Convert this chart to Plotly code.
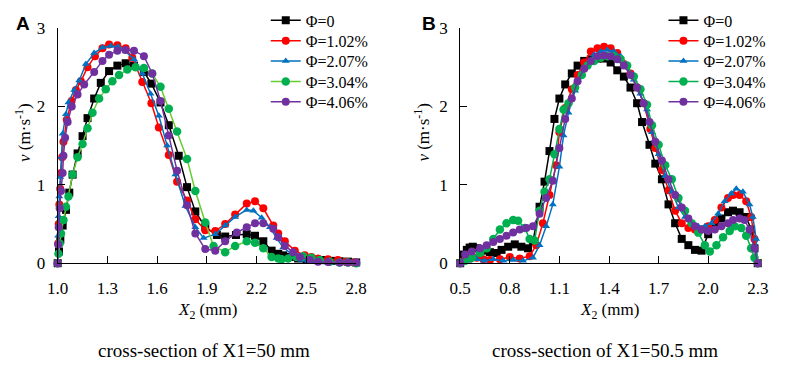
import plotly.graph_objects as go

W, H = 796, 369

LABELS = ["Φ=0", "Φ=1.02%", "Φ=2.07%", "Φ=3.04%", "Φ=4.06%"]

# ---- panel A : cross-section of X1=50 mm ----
A_X0 = [1.0, 1.008, 1.016, 1.03, 1.05, 1.07, 1.09, 1.12, 1.15, 1.18, 1.22, 1.26, 1.31, 1.36, 1.41, 1.46,
        1.52, 1.565, 1.62, 1.67, 1.73, 1.78, 1.83, 1.89, 1.96, 2.01, 2.075, 2.14, 2.19, 2.24, 2.29, 2.33,
        2.36, 2.4, 2.45, 2.5, 2.55, 2.6, 2.65, 2.7, 2.75, 2.8]
A_Y0 = [0, 0.15, 0.3, 0.48, 0.68, 0.9, 1.13, 1.4, 1.62, 1.85, 2.1, 2.3, 2.45, 2.52, 2.55, 2.52,
        2.44, 2.29, 2.05, 1.76, 1.37, 0.97, 0.66, 0.46, 0.36, 0.34, 0.36, 0.37, 0.35, 0.28, 0.16, 0.12,
        0.1, 0.08, 0.06, 0.05, 0.045, 0.04, 0.03, 0.025, 0.02, 0.01]

A_X1 = [1.0, 1.003, 1.006, 1.01, 1.015, 1.02, 1.027, 1.035, 1.055, 1.084, 1.11, 1.14, 1.18, 1.225, 1.27,
        1.31, 1.36, 1.41, 1.45, 1.51, 1.565, 1.61, 1.67, 1.72, 1.78, 1.83, 1.89, 1.95, 2.01, 2.07, 2.14,
        2.19, 2.24, 2.3, 2.33, 2.37, 2.43, 2.49, 2.53, 2.57, 2.63, 2.69, 2.74, 2.79]
A_Y1 = [0, 0.25, 0.5, 0.75, 0.95, 1.15, 1.35, 1.55, 1.83, 2.07, 2.21, 2.32, 2.5, 2.64, 2.74,
        2.79, 2.78, 2.74, 2.62, 2.31, 2.04, 1.73, 1.38, 1.04, 0.8, 0.56, 0.42, 0.41, 0.5, 0.62, 0.76,
        0.79, 0.7, 0.48, 0.38, 0.28, 0.16, 0.1, 0.08, 0.06, 0.05, 0.04, 0.02, 0.01]

A_X2 = [1.0, 1.003, 1.006, 1.01, 1.016, 1.022, 1.03, 1.05, 1.065, 1.1, 1.13, 1.17, 1.22, 1.27, 1.32,
        1.365, 1.41, 1.46, 1.51, 1.56, 1.61, 1.66, 1.71, 1.77, 1.83, 1.88, 1.95, 2.01, 2.07, 2.14, 2.18,
        2.23, 2.28, 2.32, 2.36, 2.41, 2.47, 2.51, 2.56, 2.62, 2.68, 2.74, 2.8]
A_Y2 = [0, 0.35, 0.6, 0.85, 1.1, 1.35, 1.65, 1.9, 2.05, 2.21, 2.33, 2.54, 2.68, 2.75, 2.77,
        2.76, 2.7, 2.6, 2.42, 2.16, 1.88, 1.5, 1.13, 0.73, 0.46, 0.32, 0.37, 0.48, 0.59, 0.68, 0.67,
        0.58, 0.46, 0.32, 0.2, 0.12, 0.04, 0.02, 0.015, 0.01, 0.01, 0.01, 0.01]

A_X3 = [1.0, 1.005, 1.012, 1.02, 1.035, 1.05, 1.065, 1.09, 1.12, 1.15, 1.18, 1.21, 1.25, 1.29, 1.33,
        1.37, 1.42, 1.47, 1.52, 1.57, 1.62, 1.67, 1.72, 1.78, 1.83, 1.89, 1.94, 2.01, 2.07, 2.14, 2.19,
        2.24, 2.29, 2.33, 2.35, 2.39, 2.44, 2.48, 2.53, 2.58, 2.64, 2.7, 2.75, 2.8]
A_Y3 = [0, 0.12, 0.25, 0.38, 0.55, 0.72, 0.85, 1.13, 1.35, 1.52, 1.72, 1.92, 2.1, 2.22, 2.32,
        2.4, 2.47, 2.5, 2.49, 2.42, 2.25, 1.97, 1.68, 1.33, 0.92, 0.52, 0.22, 0.14, 0.22, 0.28, 0.26,
        0.19, 0.08, 0.06, 0.05, 0.06, 0.08, 0.09, 0.07, 0.04, 0.02, 0.01, 0.01, 0.0]

A_X4 = [1.0, 1.003, 1.006, 1.012, 1.02, 1.03, 1.035, 1.045, 1.06, 1.085, 1.12, 1.16, 1.22, 1.27, 1.31,
        1.36, 1.41, 1.46, 1.52, 1.57, 1.62, 1.67, 1.72, 1.78, 1.83, 1.89, 1.95, 2.01, 2.08, 2.14, 2.19,
        2.24, 2.3, 2.33, 2.37, 2.42, 2.46, 2.52, 2.57, 2.63, 2.7, 2.75, 2.8]
A_Y4 = [0, 0.24, 0.46, 0.7, 0.92, 1.15, 1.37, 1.6, 1.8, 2.0, 2.15, 2.28, 2.44, 2.58, 2.66,
        2.71, 2.72, 2.71, 2.64, 2.42, 2.07, 1.63, 1.18, 0.74, 0.38, 0.18, 0.16, 0.28, 0.39, 0.46, 0.51,
        0.51, 0.44, 0.33, 0.22, 0.14, 0.08, 0.04, 0.02, 0.015, 0.01, 0.01, 0.01]

# ---- panel B : cross-section of X1=50.5 mm ----
B_X0 = [0.5, 0.52, 0.54, 0.557, 0.576, 0.6, 0.645, 0.68, 0.72, 0.75, 0.79, 0.83, 0.87, 0.91, 0.94, 0.98,
        1.01, 1.04, 1.07, 1.1, 1.135, 1.175, 1.21, 1.25, 1.29, 1.33, 1.37, 1.41, 1.45, 1.49, 1.53, 1.57,
        1.6, 1.645, 1.68, 1.72, 1.76, 1.8, 1.84, 1.88, 1.92, 1.96, 2.0, 2.04, 2.08, 2.12, 2.15, 2.19,
        2.23, 2.26, 2.28, 2.3]
B_Y0 = [0, 0.11, 0.17, 0.2, 0.21, 0.19, 0.16, 0.14, 0.13, 0.17, 0.21, 0.24, 0.21, 0.19, 0.28, 0.72,
        1.04, 1.43, 1.84, 2.1, 2.28, 2.42, 2.52, 2.58, 2.6, 2.61, 2.61, 2.56, 2.46, 2.38, 2.24, 2.04,
        1.8, 1.51, 1.27, 1.07, 0.75, 0.51, 0.31, 0.23, 0.17, 0.16, 0.37, 0.47, 0.57, 0.65, 0.67, 0.65,
        0.59, 0.43, 0.19, 0]

B_X1 = [0.5, 0.53, 0.56, 0.6, 0.64, 0.68, 0.74, 0.8, 0.86, 0.92, 0.96, 1.0, 1.04, 1.08, 1.1, 1.135,
        1.175, 1.21, 1.25, 1.29, 1.33, 1.37, 1.41, 1.45, 1.49, 1.53, 1.57, 1.61, 1.65, 1.68, 1.72, 1.76,
        1.8, 1.84, 1.88, 1.92, 1.96, 2.0, 2.04, 2.08, 2.12, 2.15, 2.19, 2.23, 2.26, 2.28, 2.3]
B_Y1 = [0, 0.05, 0.06, 0.07, 0.05, 0.04, 0.05, 0.08, 0.06, 0.09, 0.23, 0.51, 0.87, 1.25, 1.67, 1.98,
        2.22, 2.4, 2.56, 2.7, 2.74, 2.76, 2.74, 2.68, 2.54, 2.42, 2.24, 2.04, 1.71, 1.47, 1.19, 0.93,
        0.67, 0.51, 0.45, 0.43, 0.43, 0.47, 0.55, 0.71, 0.83, 0.87, 0.87, 0.79, 0.59, 0.31, 0]

B_X2 = [0.5, 0.55, 0.6, 0.645, 0.7, 0.76, 0.82, 0.88, 0.94, 0.98, 1.02, 1.06, 1.1, 1.125, 1.155, 1.195,
        1.235, 1.27, 1.31, 1.35, 1.39, 1.43, 1.47, 1.51, 1.55, 1.59, 1.63, 1.66, 1.7, 1.74, 1.78, 1.82,
        1.86, 1.9, 1.94, 1.98, 2.02, 2.06, 2.1, 2.14, 2.17, 2.21, 2.25, 2.27, 2.29, 2.3]
B_Y2 = [0, 0.03, 0.05, 0.03, 0.05, 0.03, 0.04, 0.03, 0.07, 0.23, 0.47, 0.75, 1.23, 1.63, 1.92, 2.2,
        2.4, 2.54, 2.66, 2.7, 2.72, 2.7, 2.64, 2.52, 2.34, 2.16, 1.96, 1.67, 1.39, 1.11, 0.91, 0.71,
        0.59, 0.51, 0.47, 0.47, 0.51, 0.63, 0.79, 0.89, 0.95, 0.91, 0.75, 0.59, 0.31, 0]

B_X3 = [0.5, 0.53, 0.57, 0.62, 0.66, 0.7, 0.74, 0.78, 0.82, 0.85, 0.89, 0.92, 0.95, 0.98, 1.01, 1.04,
        1.07, 1.1, 1.125, 1.155, 1.195, 1.235, 1.27, 1.31, 1.35, 1.39, 1.43, 1.47, 1.51, 1.55, 1.59, 1.63,
        1.66, 1.7, 1.74, 1.78, 1.82, 1.86, 1.9, 1.94, 1.98, 2.01, 2.05, 2.09, 2.13, 2.16, 2.2, 2.23,
        2.26, 2.28, 2.3]
B_Y3 = [0, 0.03, 0.07, 0.13, 0.19, 0.31, 0.43, 0.51, 0.55, 0.54, 0.45, 0.31, 0.29, 0.67, 0.91, 1.07,
        1.39, 1.71, 1.96, 2.04, 2.24, 2.4, 2.52, 2.58, 2.62, 2.64, 2.64, 2.6, 2.52, 2.38, 2.22, 2.02,
        1.76, 1.51, 1.25, 1.07, 0.83, 0.67, 0.51, 0.39, 0.23, 0.15, 0.23, 0.33, 0.41, 0.47, 0.45, 0.35,
        0.19, 0.07, 0]

B_X4 = [0.5, 0.53, 0.57, 0.62, 0.66, 0.7, 0.74, 0.78, 0.82, 0.86, 0.9, 0.94, 0.98, 1.02, 1.06, 1.1,
        1.135, 1.175, 1.21, 1.25, 1.29, 1.33, 1.37, 1.41, 1.45, 1.49, 1.53, 1.57, 1.61, 1.645, 1.68, 1.72,
        1.76, 1.8, 1.84, 1.88, 1.92, 1.96, 2.0, 2.04, 2.08, 2.12, 2.15, 2.19, 2.22, 2.25, 2.28, 2.3]
B_Y4 = [0, 0.11, 0.15, 0.19, 0.23, 0.27, 0.31, 0.35, 0.39, 0.43, 0.45, 0.47, 0.63, 0.83, 1.05, 1.47,
        1.84, 2.1, 2.32, 2.48, 2.58, 2.64, 2.65, 2.64, 2.6, 2.52, 2.4, 2.24, 2.04, 1.8, 1.55, 1.31,
        1.07, 0.87, 0.71, 0.57, 0.47, 0.43, 0.41, 0.43, 0.47, 0.51, 0.55, 0.57, 0.55, 0.43, 0.19, 0]

A_SERIES = [(A_X0, A_Y0), (A_X1, A_Y1), (A_X2, A_Y2), (A_X3, A_Y3), (A_X4, A_Y4)]
B_SERIES = [(B_X0, B_Y0), (B_X1, B_Y1), (B_X2, B_Y2), (B_X3, B_Y3), (B_X4, B_Y4)]

LINE_COLORS_A = ["#000000", "#ff0000", "#0070c0", "#66cc33", "#7030a0"]
LINE_COLORS_B = ["#000000", "#ff0000", "#0070c0", "#00b050", "#7030a0"]
MARKER_COLORS = ["#000000", "#ff0000", "#0070c0", "#00b050", "#7030a0"]
SYMBOLS = ["square", "circle", "triangle-up", "circle", "circle"]
SIZES = [8, 8, 7, 8.5, 8]

SERIF = "Liberation Serif, Times New Roman, serif"

# legend rows (pixel centres) - one small legend per entry so the row pitch matches
LEGEND_ROWS = [12, 33.5, 55, 76.5, 98]


def px_x(p):
    return p / W


def px_y(p):
    return (H - p) / H


fig = go.Figure()

legend_layout = {}
n = 0
for series, lcolors, xa, ya, leg_x in [
    (A_SERIES, LINE_COLORS_A, "x", "y", 262),
    (B_SERIES, LINE_COLORS_B, "x2", "y2", 671),
]:
    for i, (xs, ys) in enumerate(series):
        n += 1
        leg_name = "legend" if n == 1 else "legend%d" % n
        legend_layout[leg_name] = dict(
            x=px_x(leg_x), y=px_y(LEGEND_ROWS[i]), xanchor="left", yanchor="middle",
            bgcolor="rgba(0,0,0,0)", borderwidth=0,
            font=dict(family=SERIF, size=16, color="black"),
        )
        fig.add_trace(
            go.Scatter(
                x=xs,
                y=ys,
                mode="lines+markers",
                name=LABELS[i],
                xaxis=xa,
                yaxis=ya,
                legend=leg_name,
                cliponaxis=False,
                line=dict(color=lcolors[i], width=1.5),
                marker=dict(color=MARKER_COLORS[i], symbol=SYMBOLS[i], size=SIZES[i]),
            )
        )

tick_font = dict(family=SERIF, size=17, color="black")
axis_common = dict(
    showline=True,
    linecolor="black",
    linewidth=1,
    ticks="inside",
    ticklen=7,
    tickcolor="black",
    showgrid=False,
    zeroline=False,
)

y_dom = [px_y(268), px_y(20)]

fig.update_layout(
    width=W,
    height=H,
    margin=dict(l=0, r=0, t=0, b=0),
    paper_bgcolor="white",
    plot_bgcolor="white",
    font=dict(family=SERIF, size=17, color="black"),
    xaxis=dict(axis_common, domain=[px_x(48), px_x(355)], range=[1.0, 2.8],
               tickvals=[1.0, 1.3, 1.6, 1.9, 2.2, 2.5, 2.8], tickformat=".1f",
               anchor="y", ticklabelstandoff=9, tickfont=tick_font),
    yaxis=dict(axis_common, domain=y_dom, range=[0, 3], tickvals=[0, 1, 2, 3],
               anchor="x", ticklabelstandoff=8, tickfont=tick_font),
    xaxis2=dict(axis_common, domain=[px_x(462), px_x(768)], range=[0.5, 2.3],
                tickvals=[0.5, 0.8, 1.1, 1.4, 1.7, 2.0, 2.3], tickformat=".1f",
                anchor="y2", ticklabelstandoff=9, tickfont=tick_font),
    yaxis2=dict(axis_common, domain=y_dom, range=[0, 3], tickvals=[0, 1, 2, 3],
                anchor="x2", ticklabelstandoff=8, tickfont=tick_font),
    showlegend=True,
    **legend_layout,
)

annotations = []
for letter, lx, ytx, cx, sub in [
    ("A", 3, 13, 202, "cross-section of X1=50 mm"),
    ("B", 421, 423, 615, "cross-section of X1=50.5 mm"),
]:
    annotations.append(dict(text="<b>" + letter + "</b>", x=px_x(lx), y=px_y(15), xref="paper", yref="paper",
                            xanchor="left", yanchor="middle", showarrow=False,
                            font=dict(family="Liberation Sans, Arial, sans-serif", size=19, color="black")))
    annotations.append(dict(text="<i>v</i> (m·s<sup>-1</sup>)", x=px_x(ytx), y=px_y(130), xref="paper",
                            yref="paper", textangle=-90, xanchor="center", yanchor="middle",
                            showarrow=False, font=dict(family=SERIF, size=17, color="black")))
    annotations.append(dict(text="<i>X</i><sub>2</sub> (mm)", x=px_x(cx), y=px_y(318), xref="paper",
                            yref="paper", xanchor="center", yanchor="middle", showarrow=False,
                            font=dict(family=SERIF, size=17, color="black")))
    annotations.append(dict(text=sub, x=px_x(cx - 4), y=px_y(360), xref="paper", yref="paper",
                            xanchor="center", yanchor="middle", showarrow=False,
                            font=dict(family=SERIF, size=19, color="black")))

fig.update_layout(annotations=annotations)

fig.write_html("out.html", config={"displayModeBar": False},
               post_script="document.body.style.margin='0';")
